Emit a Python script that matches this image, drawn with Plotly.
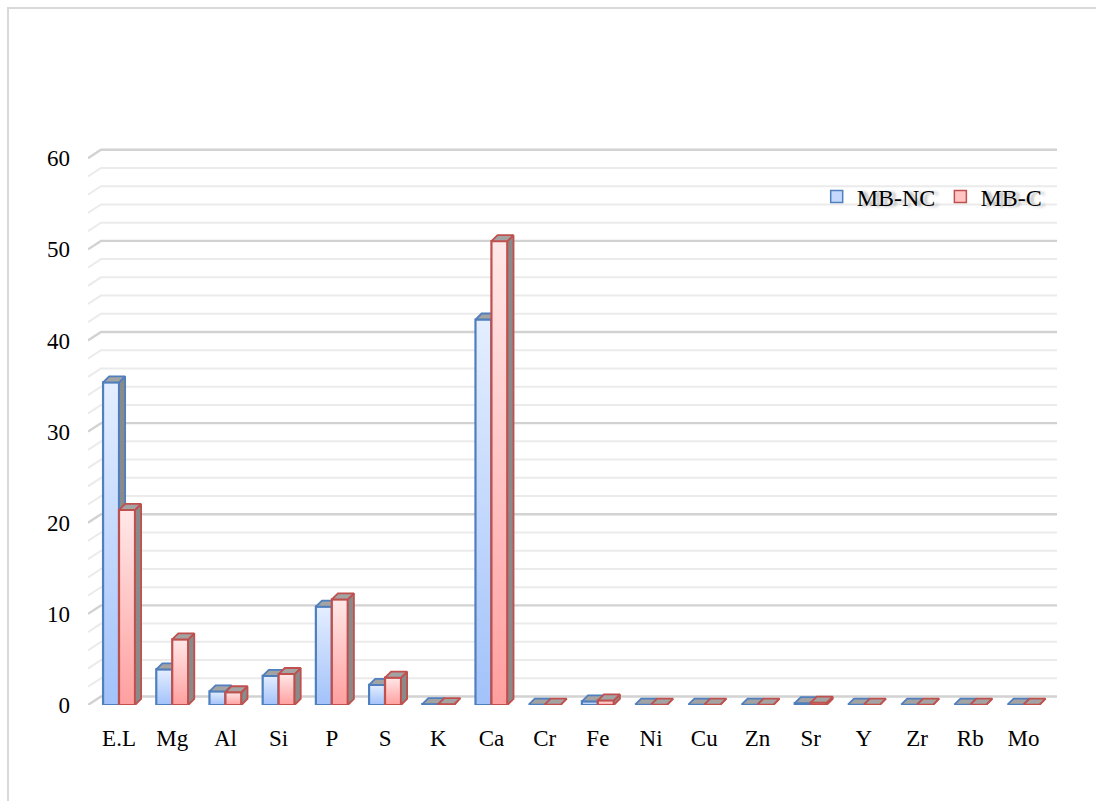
import plotly.graph_objects as go

# Element composition of the two samples (%)
elements = ["E.L", "Mg", "Al", "Si", "P", "S", "K", "Ca", "Cr", "Fe",
            "Ni", "Cu", "Zn", "Sr", "Y", "Zr", "Rb", "Mo"]
mb_nc = [35.4, 3.9, 1.5, 3.2, 10.8, 2.2, 0.1, 42.3, 0.05, 0.4,
         0.05, 0.05, 0.05, 0.2, 0.05, 0.05, 0.05, 0.05]
mb_c = [21.4, 7.2, 1.4, 3.4, 11.6, 3.0, 0.1, 50.9, 0.05, 0.5,
        0.05, 0.05, 0.05, 0.25, 0.05, 0.05, 0.05, 0.05]
y_ticks = [0, 10, 20, 30, 40, 50, 60]
minor_ticks = [v for v in range(0, 61, 2)]

# 3-D look: bar width, bar depth offset and back-wall offset (axis units)
BAR_W = 0.30
DEPTH_X, DEPTH_Y = 0.115, 0.66
WALL_X, WALL_Y = 0.244, 0.93
X_MIN, X_MAX = -0.583, 17.63
Y_MAX = 62

FONT = "Liberation Serif"

series = [
    dict(name="MB-NC", values=mb_nc, offset=-BAR_W, edge="#4f7fbd",
         top="#e4eeff", bottom="#a2c2fa", mid="#c4d9fd"),
    dict(name="MB-C", values=mb_c, offset=0.0, edge="#c0504d",
         top="#ffe8e8", bottom="#ff9f9f", mid="#ffc4c4"),
]

fig = go.Figure()

# back-wall gridlines with the short diagonal on the left side wall
def grid_path(levels):
    xs, ys = [], []
    for v in levels:
        xs += [X_MIN, X_MIN + WALL_X, X_MAX, None]
        ys += [v, v + WALL_Y, v + WALL_Y, None]
    return xs, ys

minor_levels = [v for v in minor_ticks if v not in y_ticks]
gx, gy = grid_path(minor_levels)
fig.add_trace(go.Scatter(x=gx, y=gy, mode="lines", line=dict(color="#ebebeb", width=2),
                         hoverinfo="skip", showlegend=False))
gx, gy = grid_path(y_ticks)
fig.add_trace(go.Scatter(x=gx, y=gy, mode="lines", line=dict(color="#d2d2d2", width=2.4),
                         hoverinfo="skip", showlegend=False))

for s in series:
    side_x, side_y, top_x, top_y = [], [], [], []
    for i, v in enumerate(s["values"]):
        x0 = i + s["offset"]
        x1 = x0 + BAR_W
        fig.add_trace(go.Scatter(
            x=[x0, x1, x1, x0, x0], y=[0, 0, v, v, 0],
            mode="lines", fill="toself",
            fillgradient=dict(type="vertical",
                              colorscale=[[0, s["bottom"]], [1, s["top"]]]),
            line=dict(color=s["edge"], width=2.2),
            legendgroup=s["name"], showlegend=False,
            hoverinfo="skip"))
        side_x += [x1, x1 + DEPTH_X, x1 + DEPTH_X, x1, x1, None]
        side_y += [0, DEPTH_Y, v + DEPTH_Y, v, 0, None]
        top_x += [x0, x1, x1 + DEPTH_X, x0 + DEPTH_X, x0, None]
        top_y += [v, v, v + DEPTH_Y, v + DEPTH_Y, v, None]
    fig.add_trace(go.Scatter(x=side_x, y=side_y, mode="lines", fill="toself",
                             fillcolor="#8a8a8a", line=dict(color=s["edge"], width=1.8),
                             hoverinfo="skip", showlegend=False, legendgroup=s["name"]))
    fig.add_trace(go.Scatter(x=top_x, y=top_y, mode="lines", fill="toself",
                             fillcolor="#a3a3a3", line=dict(color=s["edge"], width=1.8),
                             hoverinfo="skip", showlegend=False, legendgroup=s["name"]))
    # legend key (square swatch)
    fig.add_trace(go.Bar(x=[None], y=[None], name=s["name"], legendgroup=s["name"],
                         marker=dict(color=s["mid"], line=dict(color=s["edge"], width=1.5)),
                         hoverinfo="skip"))

# light frame around the chart area
fig.add_shape(type="rect", xref="paper", yref="paper",
              x0=(8 - 88) / 969, x1=(1110 - 88) / 969,
              y0=(705 - 815) / 565, y1=(705 - 8) / 565,
              line=dict(color="#d9d9d9", width=2), fillcolor="rgba(0,0,0,0)")

fig.update_layout(
    width=1096, height=801,
    margin=dict(l=88, r=39, t=140, b=96),
    paper_bgcolor="white", plot_bgcolor="white",
    font=dict(family=FONT, size=23, color="#000000"),
    showlegend=True,
    xaxis=dict(range=[X_MIN, X_MAX], tickmode="array",
               tickvals=list(range(len(elements))), ticktext=elements,
               showgrid=False, zeroline=False, showline=False, ticks="",
               ticklabelstandoff=17, tickfont=dict(family=FONT, size=23)),
    yaxis=dict(range=[0, Y_MAX], tickmode="array", tickvals=y_ticks,
               ticktext=[str(v) for v in y_ticks],
               showgrid=False, zeroline=False, showline=False, ticks="",
               ticklabelstandoff=17, tickfont=dict(family=FONT, size=23)),
    legend=dict(orientation="h", x=0.752, y=0.939, xanchor="left", yanchor="top",
                bgcolor="rgba(0,0,0,0)",
                font=dict(family=FONT, size=24, shadow="4px 1px 3px #b5b5b5"),
                itemwidth=30, tracegroupgap=0),
)

fig.write_html("out.html")
